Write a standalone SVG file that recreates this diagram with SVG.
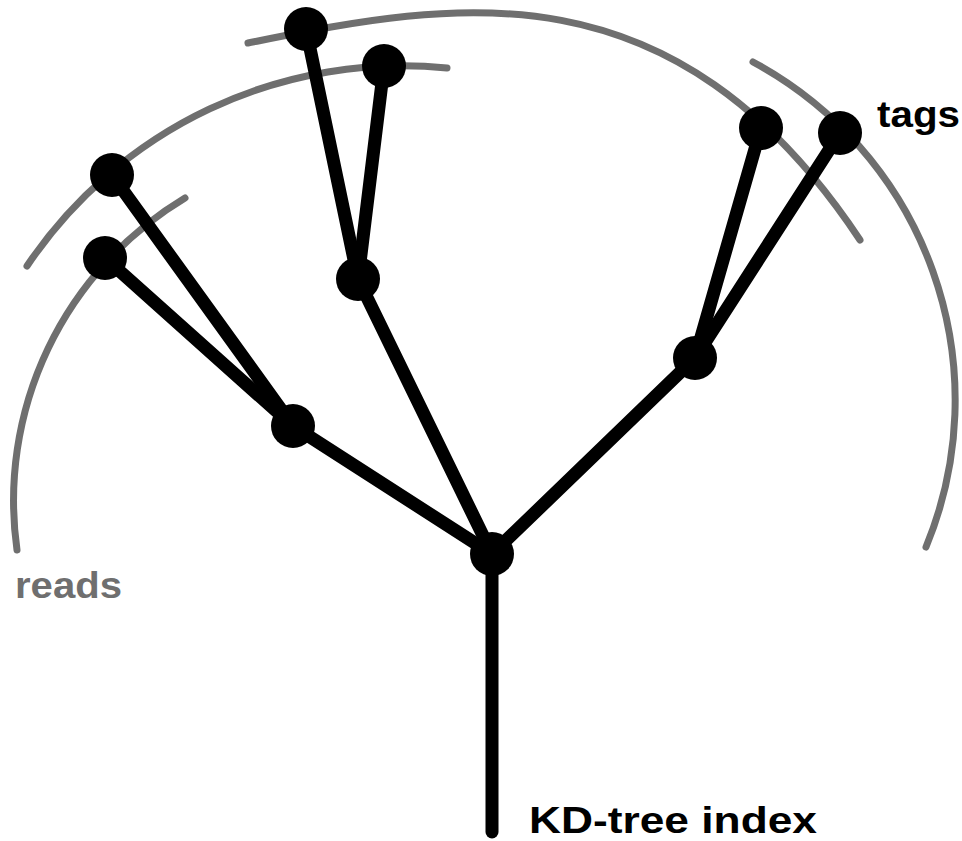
<svg xmlns="http://www.w3.org/2000/svg" width="962" height="841" viewBox="0 0 962 841">
  <style>
    .arc { fill: none; stroke: #6f6f6f; stroke-width: 7; stroke-linecap: round; }
    .edge { stroke: #000; stroke-width: 13; stroke-linecap: round; }
    .node { fill: #000; }
    .label { font-family: "Liberation Sans", Arial, Helvetica, sans-serif; font-weight: bold; font-size: 37px; }
  </style>

  <!-- range arcs -->
  <g id="arcs">
    <path class="arc" d="M17,550 A353,353 0 0 1 185,198"/>
    <path class="arc" d="M27,266 A452,452 0 0 1 447,68"/>
    <path class="arc" d="M248,43 C445,3.8 670,-46 860,240"/>
    <path class="arc" d="M753,62 A384,384 0 0 1 926,547"/>
  </g>

  <!-- tree edges -->
  <g id="connectors">
    <line class="edge" x1="492" y1="554" x2="492" y2="832"/>
    <line class="edge" x1="492" y1="554" x2="293" y2="426"/>
    <line class="edge" x1="492" y1="554" x2="358" y2="279"/>
    <line class="edge" x1="492" y1="554" x2="695" y2="358"/>
    <line class="edge" x1="293" y1="426" x2="112" y2="175"/>
    <line class="edge" x1="293" y1="426" x2="105" y2="258"/>
    <line class="edge" x1="358" y1="279" x2="306" y2="29"/>
    <line class="edge" x1="358" y1="279" x2="384" y2="66"/>
    <line class="edge" x1="695" y1="358" x2="761" y2="128"/>
    <line class="edge" x1="695" y1="358" x2="840" y2="133"/>
  </g>

  <!-- tree nodes -->
  <g id="root"><circle class="node" cx="492" cy="554" r="22"/></g>
  <g id="n-left"><circle class="node" cx="293" cy="426" r="22"/></g>
  <g id="n-mid"><circle class="node" cx="358" cy="279" r="22"/></g>
  <g id="n-right"><circle class="node" cx="695" cy="358" r="22"/></g>
  <g id="leaf-1"><circle class="node" cx="112" cy="175" r="22"/></g>
  <g id="leaf-2"><circle class="node" cx="105" cy="258" r="22"/></g>
  <g id="leaf-3"><circle class="node" cx="306" cy="29" r="22"/></g>
  <g id="leaf-4"><circle class="node" cx="384" cy="66" r="22"/></g>
  <g id="leaf-5"><circle class="node" cx="761" cy="128" r="22"/></g>
  <g id="leaf-6"><circle class="node" cx="840" cy="133" r="22"/></g>

  <!-- labels -->
  <g id="labels">
    <text class="label" x="15" y="598" fill="#6f6f6f" textLength="107" lengthAdjust="spacingAndGlyphs">reads</text>
    <text class="label" x="877" y="127" fill="#000" textLength="83" lengthAdjust="spacingAndGlyphs">tags</text>
    <text class="label" x="529" y="833" fill="#000" textLength="288" lengthAdjust="spacingAndGlyphs">KD-tree index</text>
  </g>
</svg>
